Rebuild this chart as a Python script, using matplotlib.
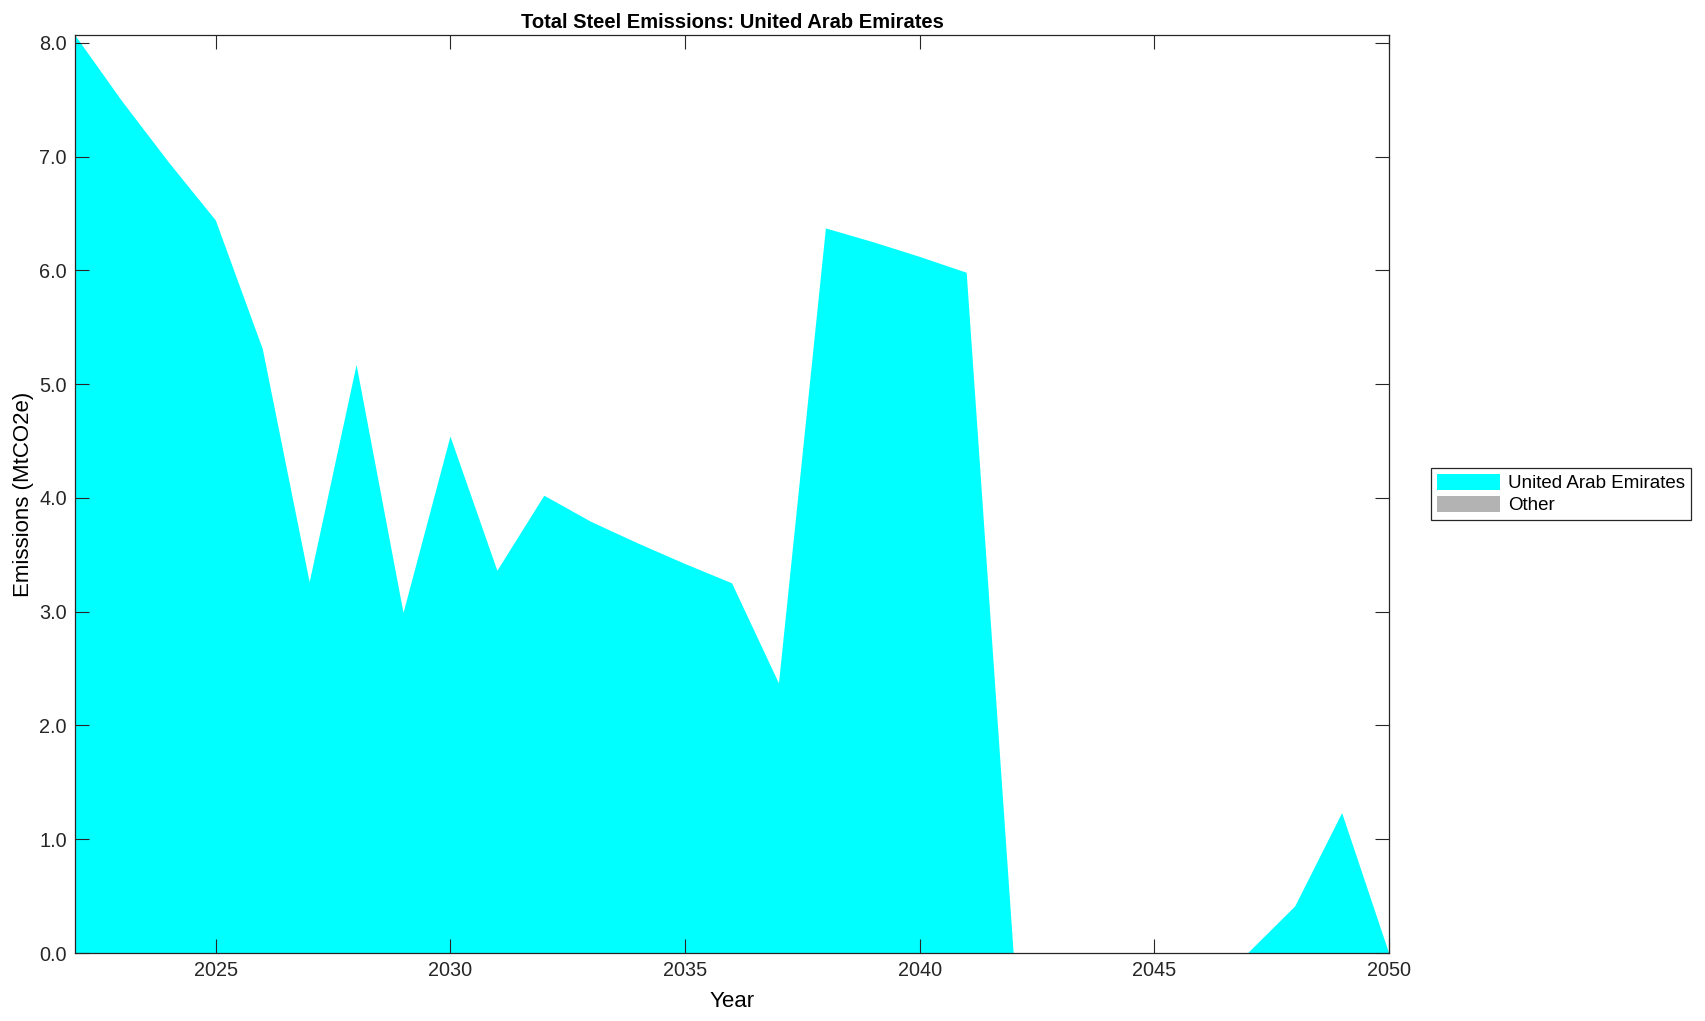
import matplotlib
matplotlib.use("Agg")
import matplotlib.pyplot as plt
import numpy as np

plt.rcParams['font.family'] = ['Liberation Sans', 'DejaVu Sans']

years = np.arange(2022, 2051)
uae = [8.07, 7.49, 6.95, 6.44, 5.31, 3.26, 5.17, 2.99, 4.54, 3.36,
       4.02, 3.79, 3.60, 3.42, 3.25, 2.37, 6.37, 6.25, 6.12, 5.98,
       0.0, 0.0, 0.0, 0.0, 0.0, 0.0, 0.41, 1.23, 0.0]
other = [0.0] * len(years)
labels = ["United Arab Emirates", "Other"]
colors = ["#00ffff", "#b3b3b3"]

fig = plt.figure(figsize=(17.05, 10.21), dpi=100)
ax = fig.add_axes([0.044, 0.0666, 0.7707, 0.8991])

ax.stackplot(years, uae, other, labels=labels, colors=colors, linewidth=0)

ax.set_xlim(2022, 2050)
ax.set_ylim(0, max(uae))
ax.set_xticks(np.arange(2025, 2051, 5))
ax.set_yticks(np.arange(0, 9, 1))
ax.set_yticklabels([f"{v:.1f}" for v in np.arange(0, 9, 1)])
ax.tick_params(direction='in', length=10, width=0.8, top=True, right=True,
               labelsize=14.3, colors='#262626', labelcolor='#262626', pad=6)
for s in ax.spines.values():
    s.set_linewidth(0.9)
    s.set_color('#262626')

ax.set_title("Total Steel Emissions: United Arab Emirates", fontsize=14.5,
             fontweight='bold', pad=5)
ax.set_xlabel("Year", fontsize=16, labelpad=8)
ax.set_ylabel("Emissions (MtCO2e)", fontsize=16, labelpad=4)

leg = fig.legend(loc='center left', bbox_to_anchor=(0.8393, 0.516),
                 borderaxespad=0, fontsize=13.5, handlelength=3.4,
                 handleheight=0.9, handletextpad=0.4, borderpad=0.3,
                 labelspacing=0.2, fancybox=False, edgecolor='#262626',
                 framealpha=1)
leg.get_frame().set_linewidth(0.9)

fig.savefig("out.png", dpi=100, facecolor='white')
